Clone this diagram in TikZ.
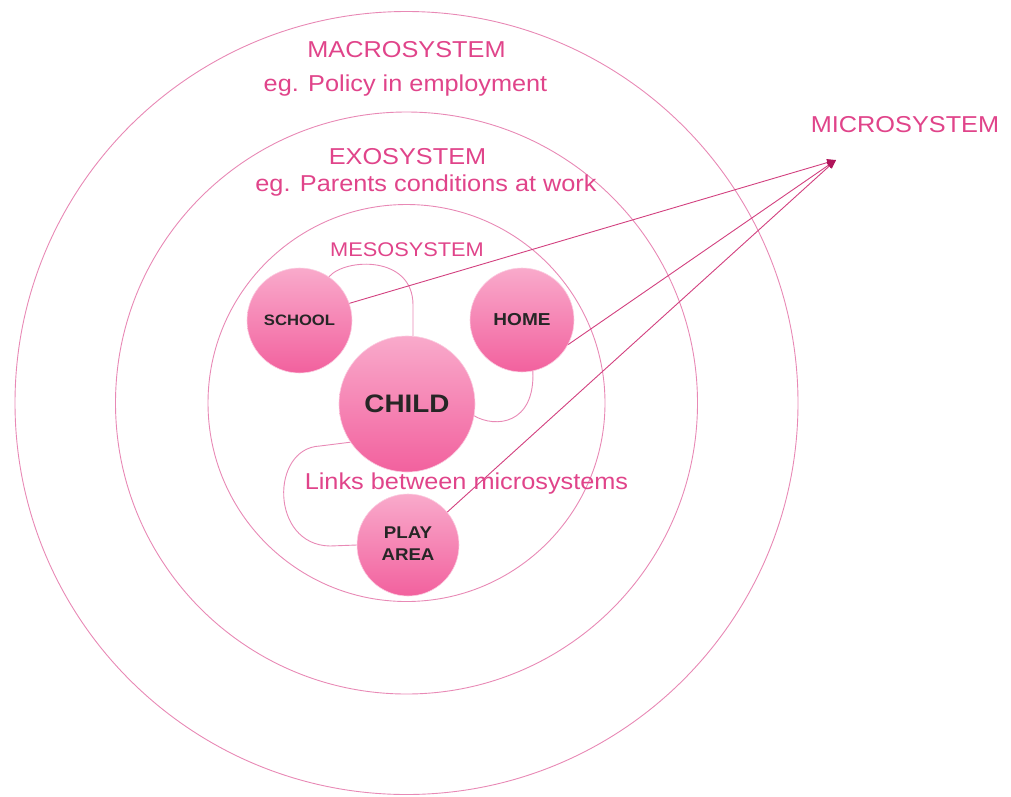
\documentclass[tikz,border=0pt]{standalone}
\usepackage{fontspec}
\setmainfont{Liberation Sans}
\usepackage{graphicx}
\usetikzlibrary{arrows.meta}
\definecolor{ringpink}{HTML}{E889B5}
\definecolor{txtpink}{HTML}{E0448A}
\definecolor{arrowpink}{HTML}{D2407F}
\definecolor{tippink}{HTML}{B0145A}
\definecolor{nodetop}{HTML}{F9AACB}
\definecolor{nodebot}{HTML}{F2619E}
\newcommand{\xs}[1]{\scalebox{1.1}[1]{#1}}
\begin{document}
\begin{tikzpicture}[x=1pt,y=-1pt,
  ring/.style={draw=ringpink, line width=0.9pt},
  lbl/.style={text=txtpink, font=\fontsize{23}{26}\selectfont, inner sep=0pt, anchor=base},
  sysnode/.style={circle, draw=nodetop!60!white, line width=0.6pt, top color=nodetop, bottom color=nodebot, inner sep=0pt, text=black!85, align=center},
  link/.style={draw=ringpink, line width=0.9pt},
  ptr/.style={draw=arrowpink, line width=0.9pt, -{Triangle[length=9pt,width=7pt,color=tippink]}}]
\useasboundingbox (0,0) rectangle (1011,796);
% rings
\draw[ring] (406.5,403) circle[radius=391.5];
\draw[ring] (406.5,403) circle[radius=291];
\draw[ring] (406.5,403) circle[radius=198.5];
% labels
\node[lbl] (macro) at (406.5,57) {\xs{MACROSYSTEM}};
\node[lbl] (macroeg) at (405.5,91) {\xs{eg. Policy in employment}};
\node[lbl] (exo) at (407.5,164) {\xs{EXOSYSTEM}};
\node[lbl] (exoeg) at (426,191) {\xs{eg. Parents conditions at work}};
\node[lbl, font=\fontsize{19.8}{23}\selectfont] (meso) at (407,256) {\xs{MESOSYSTEM}};
\node[lbl] (micro) at (905,132) {\xs{MICROSYSTEM}};
% nodes
\node[sysnode, minimum size=105pt, font=\bfseries\fontsize{15.1}{18}\selectfont] (school) at (299.5,320.5) {\xs{SCHOOL}};
\node[sysnode, minimum size=104pt, font=\bfseries\fontsize{17.3}{20}\selectfont] (home) at (522,320) {\xs{HOME}};
\node[sysnode, minimum size=136pt, font=\bfseries\fontsize{25.3}{28}\selectfont] (child) at (407,404) {\xs{CHILD}};
\node[sysnode, minimum size=102pt, font=\bfseries\fontsize{17}{22}\selectfont] (play) at (408,545) {\xs{\begin{tabular}{@{}c@{}}PLAY\\AREA\end{tabular}}};
% links between microsystems
\draw[link] (school.56) .. controls (345,258) and (413,255) .. (413,305) -- (child.85);
\draw[link] (home.-78) .. controls (535,425) and (495,428) .. (child.-10);
\draw[link] (child.214) -- (320,446) .. controls (270,448) and (270,545) .. (330,546) -- (play.west);
% pointers to microsystem
\coordinate (tip) at (836,160);
\draw[ptr] (school.19) -- (tip);
\draw[ptr] (home.-28) -- (tip);
\draw[ptr] (play.40) -- (tip);
\node[lbl] (links) at (466.5,489) {\xs{Links between microsystems}};
\end{tikzpicture}
\end{document}
